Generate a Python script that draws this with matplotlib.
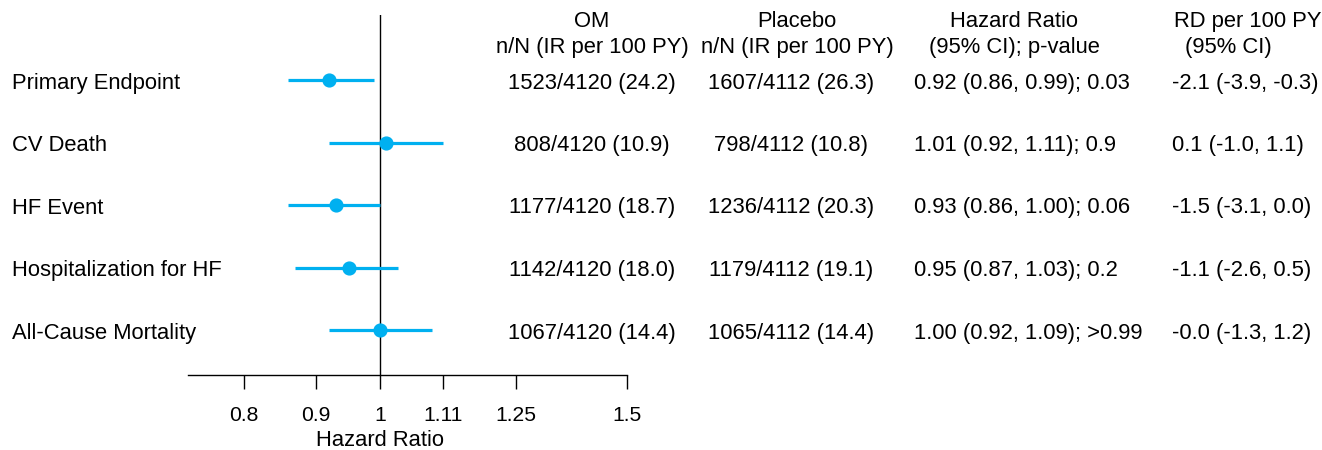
import numpy as np
import matplotlib.pyplot as plt

plt.rcParams['font.family'] = ['Liberation Sans', 'DejaVu Sans']

endpoints = ['Primary Endpoint', 'CV Death', 'HF Event',
             'Hospitalization for HF', 'All-Cause Mortality']
hr = [0.92, 1.01, 0.93, 0.95, 1.00]
hr_lo = [0.86, 0.92, 0.86, 0.87, 0.92]
hr_hi = [0.99, 1.11, 1.00, 1.03, 1.09]
om_txt = ['1523/4120 (24.2)', '808/4120 (10.9)', '1177/4120 (18.7)',
          '1142/4120 (18.0)', '1067/4120 (14.4)']
pbo_txt = ['1607/4112 (26.3)', '798/4112 (10.8)', '1236/4112 (20.3)',
           '1179/4112 (19.1)', '1065/4112 (14.4)']
p_txt = ['0.03', '0.9', '0.06', '0.2', '>0.99']
rd_txt = ['-2.1 (-3.9, -0.3)', '0.1 (-1.0, 1.1)', '-1.5 (-3.1, 0.0)',
          '-1.1 (-2.6, 0.5)', '-0.0 (-1.3, 1.2)']
ticks = [0.8, 0.9, 1, 1.11, 1.25, 1.5]
tick_labels = ['0.8', '0.9', '1', '1.11', '1.25', '1.5']

W, H = 1322, 450
fig = plt.figure(figsize=(W / 100, H / 100), dpi=100)
ax = fig.add_axes([188 / W, 1 - 375 / H, (627 - 188) / W, (375 - 15) / H])

blue = '#00B0F0'
fs = 15.8
y = np.arange(len(endpoints))

ax.hlines(y, hr_lo, hr_hi, color=blue, lw=2.3, zorder=2)
ax.plot(hr, y, 'o', color=blue, ms=9.2, zorder=3)
ax.axvline(1, color='black', lw=1, zorder=1)

ax.set_xscale('log')
ax.set_xlim(0.73, 1.5)
ax.set_ylim(4.72, -1.04)
ax.set_xticks(ticks)
ax.set_xticklabels(tick_labels, fontsize=15.2)
ax.minorticks_off()
ax.set_yticks([])
ax.tick_params(axis='x', direction='out', length=10, width=1, pad=12.5)
for s in ['top', 'right', 'left']:
    ax.spines[s].set_visible(False)
ax.spines['bottom'].set_linewidth(1)


# columns of text, placed in figure pixel coordinates (baselines)
def px(x, yy):
    return x / W, 1 - yy / H


fig.text(*px(380, 446), 'Hazard Ratio', ha='center', va='baseline', fontsize=fs)

row_y = [88.5, 151, 213.5, 276, 338.5]
for i, name in enumerate(endpoints):
    yy = row_y[i]
    fig.text(*px(12, yy), name, ha='left', va='baseline', fontsize=fs)
    fig.text(*px(592, yy), om_txt[i], ha='center', va='baseline', fontsize=fs)
    fig.text(*px(791, yy), pbo_txt[i], ha='center', va='baseline', fontsize=fs)
    hr_str = f'{hr[i]:.2f} ({hr_lo[i]:.2f}, {hr_hi[i]:.2f}); {p_txt[i]}'
    fig.text(*px(914, yy), hr_str, ha='left', va='baseline', fontsize=fs)
    fig.text(*px(1172, yy), rd_txt[i], ha='left', va='baseline', fontsize=fs)

headers = [(592, 'OM', 'n/N (IR per 100 PY)'),
           (797, 'Placebo', 'n/N (IR per 100 PY)'),
           (1014, 'Hazard Ratio', '(95% CI); p-value')]
for x, h1, h2 in headers:
    fig.text(*px(x, 27), h1, ha='center', va='baseline', fontsize=fs)
    fig.text(*px(x, 53), h2, ha='center', va='baseline', fontsize=fs)
fig.text(*px(1248, 27), 'RD per 100 PY', ha='center', va='baseline', fontsize=fs)
fig.text(*px(1228, 53), '(95% CI)', ha='center', va='baseline', fontsize=fs)

fig.savefig('out.png', dpi=100)
